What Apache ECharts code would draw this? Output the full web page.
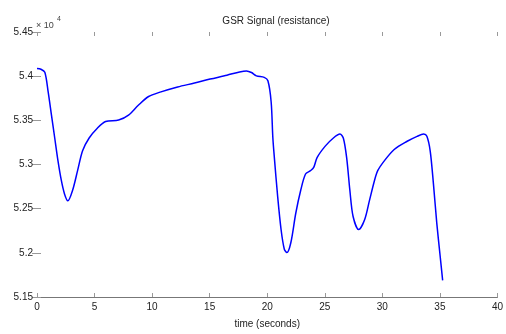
<!DOCTYPE html>
<html><head><meta charset="utf-8">
<script src="https://cdn.jsdelivr.net/npm/echarts@6/dist/echarts.min.js"></script>
<style>html,body{margin:0;padding:0;background:#fff}#c{width:506px;height:334px}</style>
</head><body><div id="c"></div>
<script>
// time in seconds
var timeSec = [0, 0.34, 0.68, 0.97, 1.26, 1.54, 1.82, 2.11, 2.39, 2.68, 3.10, 3.53, 3.96, 4.53, 5.24, 5.96, 7.09, 7.95, 8.80, 9.66, 10.77, 12.22, 13.68, 15.04, 16.5, 17.6, 18.2, 18.63, 19.06, 19.74, 20.06, 20.34, 20.49, 20.62, 20.91, 21.2, 21.48, 21.71, 22.05, 22.48, 22.91, 23.33, 23.76, 24.04, 24.33, 25.04, 25.75, 26.32, 26.61, 26.9, 27.18, 27.46, 27.95, 28.46, 28.89, 29.32, 29.6, 30.17, 31.03, 32.16, 33.02, 33.59, 33.87, 34.16, 34.44, 34.73, 35.02, 35.24];
// resistance in units of 10^4
var resistance = [5.4086, 5.4078, 5.4044, 5.3822, 5.3556, 5.33, 5.3044, 5.2822, 5.2667, 5.2589, 5.2711, 5.2933, 5.3156, 5.33, 5.3411, 5.3486, 5.3503, 5.3559, 5.367, 5.3767, 5.3822, 5.3878, 5.3922, 5.3967, 5.4011, 5.4048, 5.4059, 5.4041, 5.4003, 5.3986, 5.3948, 5.3711, 5.33, 5.3078, 5.2633, 5.2267, 5.2044, 5.2003, 5.2114, 5.2448, 5.2708, 5.2892, 5.293, 5.2967, 5.3078, 5.3208, 5.33, 5.3344, 5.33, 5.3078, 5.2708, 5.2411, 5.2263, 5.2374, 5.2597, 5.2819, 5.293, 5.3041, 5.317, 5.3263, 5.3319, 5.3344, 5.3319, 5.3152, 5.2781, 5.2337, 5.1967, 5.1689];
var xTicks = {min: 0, max: 40, interval: 5};
var yTicks = {min: 5.15, max: 5.45, interval: 0.05};
var titleText = 'GSR Signal (resistance)';
var xName = 'time (seconds)';
var exponentText = '4';

var data = timeSec.map(function (t, i) { return [t, resistance[i]]; });
var chart = echarts.init(document.getElementById('c'), null, {renderer: 'canvas'});
var font = 'Liberation Sans, Arial, Helvetica, sans-serif';
var tickStyle = {color: '#999', width: 1};
chart.setOption({
  animation: false,
  backgroundColor: '#fff',
  title: {text: titleText, left: 271, top: 11, textAlign: 'center',
    textStyle: {fontFamily: font, fontSize: 10, fontWeight: 'normal', color: '#222'}},
  grid: {left: 37, right: 1, top: 32, bottom: 32, containLabel: false},
  xAxis: [{
    type: 'value', min: xTicks.min, max: xTicks.max, interval: xTicks.interval,
    name: xName, nameLocation: 'middle', nameGap: 22,
    nameTextStyle: {fontFamily: font, fontSize: 10, color: '#222'},
    axisLine: {show: true, lineStyle: {color: '#777', width: 1}},
    axisTick: {show: true, inside: true, length: 4, lineStyle: tickStyle},
    axisLabel: {fontFamily: font, fontSize: 10, color: '#222', margin: 5},
    splitLine: {show: false}
  }, {
    type: 'value', position: 'top', min: xTicks.min, max: xTicks.max, interval: xTicks.interval,
    axisLine: {show: false},
    axisTick: {show: true, inside: true, length: 4, lineStyle: tickStyle},
    axisLabel: {show: false}, splitLine: {show: false}
  }],
  yAxis: [{
    type: 'value', min: yTicks.min, max: yTicks.max, interval: yTicks.interval,
    axisLine: {show: false},
    axisTick: {show: true, inside: true, length: 4, lineStyle: tickStyle},
    axisLabel: {fontFamily: font, fontSize: 10, color: '#222', margin: 4,
      formatter: function (v) { return String(+v.toFixed(2)); }},
    splitLine: {show: false}
  }, {
    type: 'value', position: 'right', min: yTicks.min, max: yTicks.max, interval: yTicks.interval,
    axisLine: {show: false},
    axisTick: {show: true, inside: true, length: 5, lineStyle: tickStyle},
    axisLabel: {show: false}, splitLine: {show: false}
  }],
  graphic: [
    {type: 'text', left: 36, top: 21, style: {text: '\u00d7 10', fontFamily: font, fontSize: 9, fill: '#444'}},
    {type: 'text', left: 57, top: 16, style: {text: exponentText, fontFamily: font, fontSize: 7, fill: '#444'}}
  ],
  series: [{
    type: 'line', data: data, xAxisIndex: 0, yAxisIndex: 0,
    showSymbol: false, smooth: 0.3,
    lineStyle: {color: '#0000ff', width: 1.5}
  }]
});
</script></body></html>
